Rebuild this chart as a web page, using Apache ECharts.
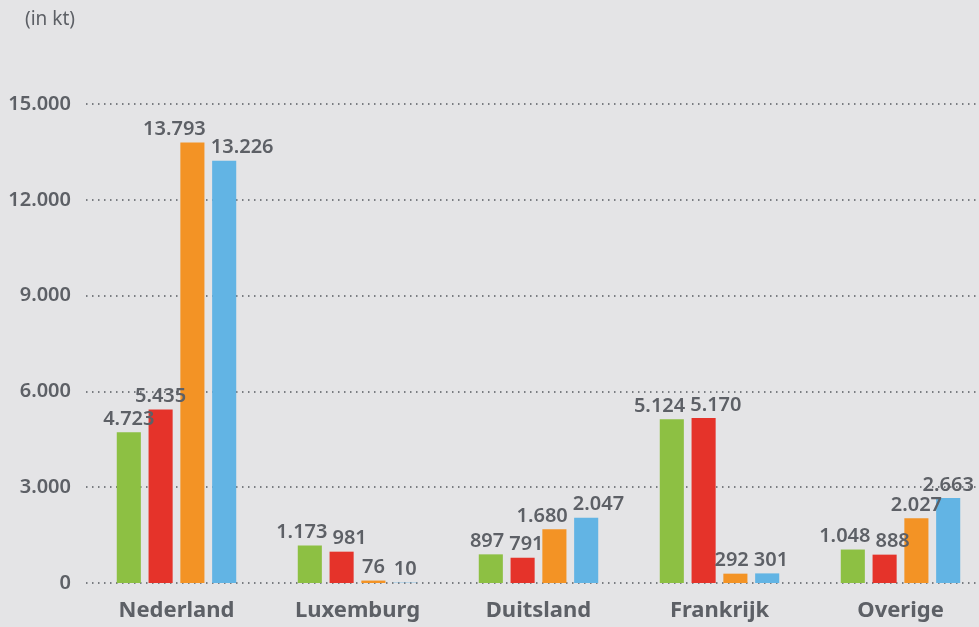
<!DOCTYPE html>
<html>
<head>
<meta charset="utf-8">
<script src="https://cdn.jsdelivr.net/npm/echarts@6/dist/echarts.min.js"></script>
<style>
  html, body { margin: 0; padding: 0; background: #e4e4e6; overflow: hidden; }
  #chart { width: 995px; height: 627px; }
</style>
</head>
<body>
<div id="chart"></div>
<script>
const categories = ['Nederland', 'Luxemburg', 'Duitsland', 'Frankrijk', 'Overige']
const seriesA = [4723, 1173, 897, 5124, 1048]
const seriesB = [5435, 981, 791, 5170, 888]
const seriesC = [13793, 76, 1680, 292, 2027]
const seriesD = [13226, 10, 2047, 301, 2663]
const allSeries = [seriesA, seriesB, seriesC, seriesD]

const colors = ['#8dc043', '#e5332a', '#f39325', '#62b4e4']
const textColor = '#5d6066'
const fontFamily = '"Noto Sans", sans-serif'

const fmt = (v) => String(v).replace(/\B(?=(\d{3})+(?!\d))/g, '.')

const chart = echarts.init(document.getElementById('chart'))

// label rects from the first render, then horizontal nudges so neighbours don't collide
const rects = allSeries.map(() => [])
const offsets = allSeries.map(() => categories.map(() => 0))

const labelLayout = (params) => {
  rects[params.seriesIndex][params.dataIndex] = params.labelRect
  return { dx: offsets[params.seriesIndex][params.dataIndex] }
}

const makeSeries = (data, i) => ({
  type: 'bar',
  data: data,
  barGap: '32%',
  barCategoryGap: '34%',
  itemStyle: { color: colors[i] },
  label: {
    show: true,
    position: 'top',
    distance: 3,
    color: textColor,
    fontFamily: fontFamily,
    fontSize: 20,
    fontWeight: 600,
    formatter: (p) => fmt(p.value),
  },
  labelLayout: labelLayout,
})

const option = {
  backgroundColor: '#e4e4e6',
  animation: false,
  title: {
    text: '(in kt)',
    left: 20,
    top: 5,
    textStyle: { color: textColor, fontFamily: fontFamily, fontSize: 19, fontWeight: 400 },
  },
  grid: { left: 86, right: 4, top: 104, bottom: 44 },
  xAxis: {
    type: 'category',
    data: categories,
    axisLine: { show: false },
    axisTick: { show: false },
    axisLabel: {
      color: textColor,
      fontFamily: fontFamily,
      fontSize: 22,
      fontWeight: 700,
      margin: 17,
    },
  },
  yAxis: {
    type: 'value',
    min: 0,
    max: 15000,
    interval: 3000,
    axisLine: { show: false },
    axisTick: { show: false },
    axisLabel: {
      color: textColor,
      fontFamily: fontFamily,
      fontSize: 20,
      fontWeight: 600,
      margin: 15,
      formatter: (v) => fmt(v),
    },
    splitLine: {
      lineStyle: { color: '#555a60', width: 1.5, type: [1.5, 4.5] },
    },
  },
  series: allSeries.map(makeSeries),
}

chart.setOption(option)

const gap = 5
categories.forEach((_, ci) => {
  const boxes = allSeries.map((_, si) => ({ r: rects[si][ci], dx: 0 }))
  if (boxes.some((b) => !b.r)) return
  for (let iter = 0; iter < 10; iter++) {
    for (let si = 0; si < boxes.length - 1; si++) {
      const a = boxes[si]
      const b = boxes[si + 1]
      const vOverlap = a.r.y < b.r.y + b.r.height && b.r.y < a.r.y + a.r.height
      if (!vOverlap) continue
      const overlap = a.r.x + a.dx + a.r.width + gap - (b.r.x + b.dx)
      if (overlap > 0) {
        a.dx -= overlap / 2
        b.dx += overlap / 2
      }
    }
  }
  boxes.forEach((b, si) => { offsets[si][ci] = b.dx })
})

chart.setOption(option, true)
</script>
</body>
</html>
